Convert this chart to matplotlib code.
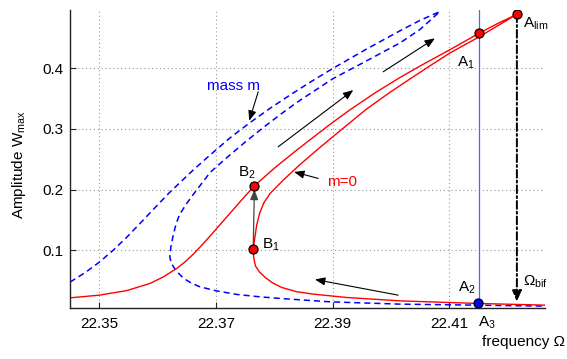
import matplotlib
matplotlib.use("Agg")
import matplotlib.pyplot as plt

plt.rcParams['font.family'] = ['Liberation Sans', 'DejaVu Sans']
plt.rcParams['mathtext.fontset'] = 'custom'
plt.rcParams['mathtext.rm'] = 'Liberation Sans'
plt.rcParams['mathtext.it'] = 'Liberation Sans:italic'
plt.rcParams['font.size'] = 11

# m = 0 response curve (red): lower-left -> upper branch -> A_lim -> unstable branch -> B1 -> lower-right
red_freq = [22.3450, 22.3500, 22.3547, 22.3587, 22.3610, 22.3633, 22.3647, 22.3661,
            22.3674, 22.3690, 22.3704, 22.3718, 22.3744, 22.3766, 22.3800, 22.3836,
            22.3866, 22.3900, 22.3930, 22.3973, 22.4016, 22.4059, 22.4101, 22.4151,
            22.4183, 22.4216,
            22.4183, 22.4147, 22.4101, 22.4067, 22.4033, 22.3998, 22.3958, 22.3896,
            22.3873, 22.3844, 22.3815, 22.3793, 22.3782, 22.3775, 22.3770, 22.3767,
            22.3764,
            22.3765, 22.3768, 22.3775, 22.3786, 22.3798, 22.3813, 22.3838, 22.3867,
            22.3924, 22.4016, 22.4150, 22.4267]
red_amp = [0.0213, 0.0257, 0.0332, 0.0450, 0.0559, 0.0698, 0.0805, 0.0930,
           0.1062, 0.1232, 0.1385, 0.1540, 0.1825, 0.2060, 0.2350, 0.2630,
           0.2855, 0.3105, 0.3315, 0.3595, 0.3850, 0.4085, 0.4305, 0.4576,
           0.4738, 0.4889,
           0.4700, 0.4495, 0.4250, 0.4040, 0.3825, 0.3600, 0.3325, 0.2835,
           0.2650, 0.2410, 0.2150, 0.1936, 0.1776, 0.1606, 0.1413, 0.1219,
           0.1012,
           0.0868, 0.0736, 0.0637, 0.0538, 0.0455, 0.0384, 0.0315, 0.0274,
           0.0219, 0.0163, 0.0120, 0.0092]

# with mass m (blue dashed)
blue_freq = [22.3450, 22.3476, 22.3500, 22.3523, 22.3547, 22.3570, 22.3598, 22.3621,
             22.3661, 22.3690, 22.3724, 22.3758, 22.3793, 22.3829, 22.3865, 22.3901,
             22.3958, 22.4016, 22.4050, 22.4084,
             22.4050, 22.4016, 22.3958, 22.3901, 22.3844, 22.3815, 22.3781, 22.3750,
             22.3718, 22.3690, 22.3661, 22.3650, 22.3638, 22.3632, 22.3627, 22.3623,
             22.3621, 22.3623, 22.3627, 22.3633, 22.3644, 22.3658, 22.3673, 22.3701,
             22.3736, 22.3776, 22.3810, 22.3896, 22.4016, 22.4149, 22.4267]
blue_amp = [0.0472, 0.0630, 0.0800, 0.0990, 0.1210, 0.1440, 0.1725, 0.1955,
            0.2320, 0.2568, 0.2850, 0.3100, 0.3340, 0.3570, 0.3790, 0.4000,
            0.4315, 0.4620, 0.4790, 0.4935,
            0.4640, 0.4420, 0.4120, 0.3830, 0.3470, 0.3270, 0.3020, 0.2780,
            0.2520, 0.2280, 0.1915, 0.1771, 0.1590, 0.1440, 0.1250, 0.1060,
            0.0900, 0.0800, 0.0730, 0.0650, 0.0540, 0.0455, 0.0394, 0.0328,
            0.0269, 0.0229, 0.0203, 0.0147, 0.0109, 0.0092, 0.0076]

# marked points
B1 = (22.3764, 0.1012)
B2 = (22.3766, 0.2060)
A1 = (22.4151, 0.4576)
A_lim = (22.4216, 0.4889)
A2 = (22.4150, 0.0120)

xticks = [22.35, 22.37, 22.39, 22.41]
yticks = [0.1, 0.2, 0.3, 0.4]

fig = plt.figure(figsize=(5.67, 3.59), dpi=100)
ax = fig.add_axes([0.1235, 0.142, 0.8375, 0.830])

ax.plot(blue_freq, blue_amp, color='#0000ff', lw=1.1, ls=(0, (4, 2.6)))
ax.plot(red_freq, red_amp, color='#ff0000', lw=1.0)

# jump line at A1
ax.plot([A1[0], A1[0]], [A2[1], 0.5], color='#4d66ff', lw=0.9)

# arrows
arr = dict(arrowstyle='-|>,head_length=0.55,head_width=0.22', color='black', lw=0.8,
           shrinkA=0, shrinkB=0)
arrows = [((22.38069, 0.2705), (22.39355, 0.3640)),
          ((22.39869, 0.3942), (22.40755, 0.4493)),
          ((22.37726, 0.3612), (22.37572, 0.3134)),
          ((22.38754, 0.2183), (22.38340, 0.2290)),
          ((22.40126, 0.0257), (22.38698, 0.0516))]
for tail, head in arrows:
    ax.annotate('', xy=head, xytext=tail, arrowprops=arr)

ax.annotate('', xy=(B2[0], B2[1] - 0.006), xytext=B1,
            arrowprops=dict(arrowstyle='-|>,head_length=0.55,head_width=0.22',
                            color='#444444', lw=0.9, shrinkA=0, shrinkB=0))
ax.annotate('', xy=(A_lim[0], 0.0147), xytext=A_lim,
            arrowprops=dict(arrowstyle='-|>,head_length=0.6,head_width=0.25',
                            color='black', lw=1.4, ls=(0, (4, 1.5, 1, 1.5)),
                            shrinkA=0, shrinkB=0))

mk = dict(marker='o', ms=6.5, mec='black', mew=0.9, ls='none', zorder=5)
for p in [B1, B2, A1, A_lim]:
    ax.plot(*p, mfc='#ff0000', **mk)
ax.plot(*A2, mfc='#0000ff', **mk)

# labels
ax.text(22.3684, 0.370, 'mass m', color='#0000ff', va='center')
ax.text(22.3890, 0.213, 'm=0', color='#ff0000', va='center')
ax.text(22.37378, 0.221, r'B$_\mathrm{2}$', va='baseline')
ax.text(22.37789, 0.1017, r'B$_\mathrm{1}$', va='baseline')
ax.text(22.41128, 0.4025, r'A$_\mathrm{1}$', va='baseline')
ax.text(22.42269, 0.4675, r'A$_\mathrm{lim}$', va='baseline')
ax.text(22.41155, 0.0312, r'A$_\mathrm{2}$', va='baseline')
ax.text(22.41497, -0.0254, r'A$_\mathrm{3}$', va='baseline')
ax.text(22.42269, 0.0422, r'Ω$_\mathrm{bif}$', va='baseline')

ax.set_xlim(22.345, 22.4264)
ax.set_ylim(0.0045, 0.496)
ax.set_xticks(xticks)
ax.set_xticklabels([f'{t:.2f}' for t in xticks])
ax.set_yticks(yticks)
ax.set_yticklabels([f'{t:.1f}' for t in yticks])
ax.tick_params(direction='in', length=4, width=0.8, colors='#222222', labelcolor='black')
ax.tick_params(axis='x', pad=6.3)
ax.tick_params(axis='y', pad=4.8)
ax.grid(True, ls=(0, (1, 2.5)), color='#999999', lw=0.8)
for s in ['top', 'right']:
    ax.spines[s].set_visible(False)
for s in ['left', 'bottom']:
    ax.spines[s].set_color('#222222')
    ax.spines[s].set_linewidth(1.0)

fig.text(565 / 567, 1 - 346 / 359, 'frequency Ω', ha='right', va='baseline')
fig.text(19 / 567, 1 - 165 / 359, r'Amplitude W$_\mathrm{max}$', rotation=90,
         ha='center', va='center')

fig.savefig('out.png', dpi=100)
